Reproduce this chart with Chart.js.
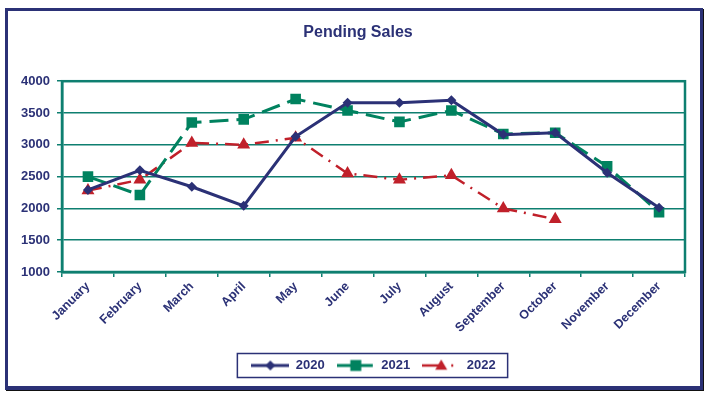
<!DOCTYPE html>
<html>
<head>
<meta charset="utf-8">
<script src="https://cdn.jsdelivr.net/npm/chart.js@4.4.1/dist/chart.umd.min.js"></script>
<style>
  html, body { margin: 0; padding: 0; background: #fff; }
  #frame {
    position: absolute; left: 5px; top: 8px; width: 692px; height: 375px;
    border: 3px solid #2B3176; border-bottom-width: 4px;
    box-shadow: 1px 1px 0 #111;
  }
  #wrap { position: absolute; left: 0; top: 0; width: 707px; height: 396px; }
</style>
</head>
<body>
<div id="frame"></div>
<div id="wrap"><canvas id="pendingChart"></canvas></div>
<script>
// Chart data
const months = ["January", "February", "March", "April", "May", "June",
  "July", "August", "September", "October", "November", "December"];
const sales2020 = [2290, 2600, 2340, 2040, 3130, 3660, 3660, 3700, 3160, 3190, 2560, 2010];
const sales2021 = [2500, 2210, 3350, 3400, 3720, 3540, 3360, 3540, 3170, 3190, 2660, 1940];
const sales2022 = [2280, 2450, 3030, 3000, 3110, 2550, 2450, 2520, 2000, 1830, null, null];
const yTicks = [1000, 1500, 2000, 2500, 3000, 3500, 4000];

const NAVY = "#2B3176";
const GREEN = "#00825F";
const RED = "#C0202A";
const TEAL = "#0E7F70";
const FONT = "'Liberation Sans', Arial, sans-serif";

// Legend icon: short line with the marker in the middle
function makeIcon(color, dash, width, shape, r) {
  const c = document.createElement("canvas");
  c.width = 38;
  c.height = 16;
  const ctx = c.getContext("2d");
  ctx.strokeStyle = color;
  ctx.fillStyle = color;
  ctx.lineWidth = width;
  ctx.setLineDash(dash);
  ctx.beginPath();
  ctx.moveTo(0, 8);
  ctx.lineTo(38, 8);
  ctx.stroke();
  ctx.setLineDash([]);
  ctx.beginPath();
  if (shape === "diamond") {
    ctx.moveTo(19, 8 - r); ctx.lineTo(19 + r, 8); ctx.lineTo(19, 8 + r); ctx.lineTo(19 - r, 8);
  } else if (shape === "square") {
    ctx.rect(19 - r, 8 - r, 2 * r, 2 * r);
  } else {
    ctx.moveTo(19, 8 - r); ctx.lineTo(19 + r, 8 + r * 0.7); ctx.lineTo(19 - r, 8 + r * 0.7);
  }
  ctx.closePath();
  ctx.fill();
  return c;
}

const icons = [
  makeIcon(NAVY, [], 3, "diamond", 5),
  makeIcon(GREEN, [15, 6], 3, "square", 5.5),
  makeIcon(RED, [19, 10, 2, 8], 2.5, "triangle", 6),
];

// Draws the teal frame around the plot area
const plotFrame = {
  id: "plotFrame",
  beforeDatasetsDraw(chart) {
    const { ctx, chartArea } = chart;
    ctx.save();
    ctx.strokeStyle = TEAL;
    ctx.lineWidth = 2.5;
    ctx.strokeRect(chartArea.left, chartArea.top, chartArea.right - chartArea.left, chartArea.bottom - chartArea.top);
    ctx.restore();
  },
};

// Box around the legend
const legendBox = {
  id: "legendBox",
  afterDraw(chart) {
    const boxes = chart.legend.legendHitBoxes;
    if (!boxes || !boxes.length) return;
    const left = Math.min(...boxes.map((b) => b.left));
    const right = Math.max(...boxes.map((b) => b.left + b.width));
    const mid = boxes[0].top + boxes[0].height / 2;
    const ctx = chart.ctx;
    ctx.save();
    ctx.strokeStyle = NAVY;
    ctx.lineWidth = 1.5;
    ctx.strokeRect(left - 14, mid - 12, right - left + 26, 24);
    ctx.restore();
  },
};

new Chart(document.getElementById("pendingChart"), {
  type: "line",
  data: {
    labels: months,
    datasets: [
      {
        label: "2020",
        data: sales2020,
        borderColor: NAVY,
        backgroundColor: NAVY,
        borderWidth: 3,
        pointStyle: "rectRot",
        pointRadius: 5,
        pointBorderWidth: 0,
        tension: 0,
      },
      {
        label: "2021",
        data: sales2021,
        borderColor: GREEN,
        backgroundColor: GREEN,
        borderWidth: 3,
        borderDash: [19, 8],
        pointStyle: "rect",
        pointRadius: 7.5,
        pointBorderWidth: 0,
        tension: 0,
      },
      {
        label: "2022",
        data: sales2022,
        borderColor: RED,
        backgroundColor: RED,
        borderWidth: 2.5,
        borderDash: [14, 7, 2, 7],
        pointStyle: "triangle",
        pointRadius: 7.5,
        pointBorderWidth: 0,
        tension: 0,
      },
    ],
  },
  options: {
    responsive: true,
    maintainAspectRatio: false,
    animation: false,
    layout: { padding: { left: 9, right: 0, top: 0, bottom: 14 } },
    plugins: {
      title: {
        display: true,
        text: "Pending Sales",
        color: NAVY,
        font: { family: FONT, size: 16, weight: "bold" },
        padding: { top: 23, bottom: 39 },
      },
      legend: {
        position: "bottom",
        fullSize: false,
        labels: {
          color: NAVY,
          font: { family: FONT, size: 13, weight: "bold" },
          usePointStyle: true,
          pointStyleWidth: 38,
          padding: 12,
          generateLabels: (chart) =>
            chart.data.datasets.map((ds, i) => ({
              text: ds.label,
              pointStyle: icons[i],
              fontColor: NAVY,
              datasetIndex: i,
              lineWidth: 0,
              strokeStyle: "transparent",
              fillStyle: "transparent",
            })),
        },
      },
      tooltip: { enabled: false },
    },
    scales: {
      x: {
        offset: true,
        afterFit: (scale) => { scale.height = 75; },
        grid: { offset: true, drawOnChartArea: false, color: TEAL, lineWidth: 1.5, tickLength: 5 },
        border: { color: TEAL, width: 2.5 },
        ticks: {
          color: NAVY,
          font: { family: FONT, size: 12.5, weight: "bold" },
          maxRotation: 45,
          minRotation: 45,
          autoSkip: false,
          padding: 2,
        },
      },
      y: {
        min: yTicks[0],
        max: yTicks[yTicks.length - 1],
        afterFit: (scale) => { scale.width = 53; },
        afterBuildTicks: (scale) => { scale.ticks = yTicks.map((v) => ({ value: v })); },
        grid: { color: TEAL, lineWidth: 1.5, tickLength: 5 },
        border: { color: TEAL, width: 2.5 },
        ticks: {
          color: NAVY,
          font: { family: FONT, size: 13, weight: "bold" },
          padding: 7,
          callback: (v) => String(v),
        },
      },
      // empty right-hand axis that only keeps space beside the plot
      yRight: {
        position: "right",
        afterFit: (scale) => { scale.width = 22; },
        grid: { display: false },
        border: { display: false },
        ticks: { display: false },
      },
    },
  },
  plugins: [plotFrame, legendBox],
});
</script>
</body>
</html>
